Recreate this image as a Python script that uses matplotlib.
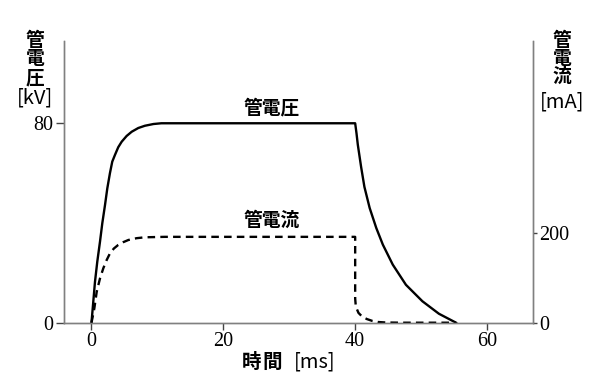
import matplotlib.pyplot as plt

jp = ["Noto Sans CJK JP", "DejaVu Sans"]
num_font = "Liberation Serif"

# tube voltage [kV] over time [ms]
volt_t = [0, 0.23, 0.53, 0.88, 1.29, 1.64, 2.05, 2.4, 2.8, 3.15, 3.56, 4.06,
          4.58, 5.33, 6.1, 7.1, 8.1, 9.4, 10.6, 40,
          40.2, 40.4, 40.9, 41.4, 42.2, 43.2, 44.2, 45.7, 47.7, 50.2, 52.7, 55.3]
volt_kv = [0, 7.1, 16.4, 24.5, 32.5, 39.9, 47.2, 53.9, 60, 64.6, 67.3, 70.4,
           72.6, 74.9, 76.6, 78.1, 79, 79.7, 80, 80,
           76, 71.4, 62.5, 54.5, 46, 38, 31.3, 23.3, 15.2, 8.6, 3.6, 0]

# tube current [mA] over time [ms]
curr_t = [0, 0.43, 0.79, 1.29, 1.8, 2.3, 2.8, 3.4, 4.06, 4.8, 5.6, 6.85,
          8.1, 11.1, 40,
          40, 40.1, 40.5, 41.1, 41.8, 42.6, 43.5, 44.6, 47, 55.3]
curr_ma = [0, 32, 69, 99, 122, 140, 155, 166, 174, 180, 185, 189,
           191, 192, 192,
           54, 36, 22, 13, 8, 4, 1.5, 0.5, 0, 0]

x_ticks = [0, 20, 40, 60]
kv_ticks = [0, 80]
ma_ticks = [0, 200]

fig = plt.figure(figsize=(6.07, 3.81), dpi=100)
ax = fig.add_axes([64 / 607, 1 - 322.7 / 381, (532.5 - 64) / 607, (322.7 - 41) / 381])
ax2 = ax.twinx()

ax.plot(volt_t, volt_kv, color="black", lw=1.7, solid_joinstyle="round")
ax2.plot(curr_t, curr_ma, color="black", lw=1.7, linestyle=(0, (3.2, 2.2)))

ax.set_xlim(-4.17, 66.9)
ax.set_ylim(0, 113)
ax2.set_ylim(0, 630)

ax.set_xticks(x_ticks)
ax.set_yticks(kv_ticks)
ax2.set_yticks(ma_ticks)

spine_col = "#808080"
for a in (ax, ax2):
    a.spines["top"].set_visible(False)
    for s in ("left", "right", "bottom"):
        a.spines[s].set_color(spine_col)
        a.spines[s].set_linewidth(1.0)
    for lab in a.get_xticklabels() + a.get_yticklabels():
        lab.set_fontfamily(num_font)
        lab.set_fontsize(14.5)

ax.tick_params(axis="x", direction="out", length=5, width=1, color="#444444", pad=2)
ax.tick_params(axis="y", direction="out", length=6, width=1, color="#444444", pad=2)
ax2.tick_params(axis="y", direction="out", length=3, width=1, color="#444444", pad=2)

ax.text(27.4, 86.3, "管電圧", family=jp, fontsize=13.5, fontweight="bold",
        ha="center", va="center")
ax2.text(27.4, 230, "管電流", family=jp, fontsize=13.5, fontweight="bold",
         ha="center", va="center")


def px_text(x, y, s, bold=True, size=13.5, ha="center"):
    fig.text(x / 607, 1 - y / 381, s, family=jp, fontsize=size,
             fontweight="bold" if bold else "normal", ha=ha, va="center")


# stacked axis titles
for ch, yy in zip("管電圧", [41, 58.5, 77.5]):
    px_text(35, yy, ch)
px_text(35, 98, "[kV]", bold=False, size=14.5)
for ch, yy in zip("管電流", [40, 58, 76.5]):
    px_text(562, yy, ch)
px_text(562, 102, "[mA]", bold=False, size=14.5)

for ch, xx in zip("時間", [251.7, 272.5]):
    px_text(xx, 362, ch, size=14)
px_text(294, 362, "[ms]", bold=False, size=14.5, ha="left")

fig.savefig("out.png", dpi=100)
